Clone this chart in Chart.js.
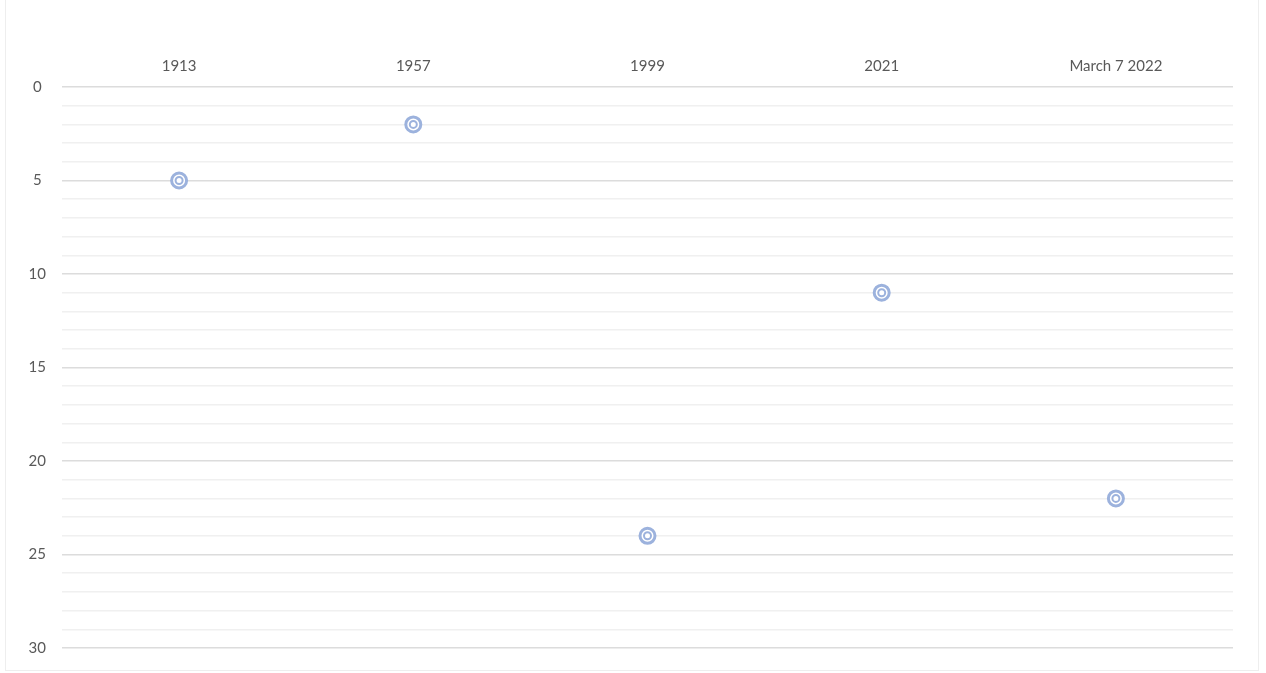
<!DOCTYPE html>
<html>
<head>
<meta charset="utf-8">
<script src="https://cdn.jsdelivr.net/npm/chart.js@4"></script>
<style>
  body { margin: 0; background: #fff; }
  #wrap { position: relative; width: 1266px; height: 673px; }
  #frame { position: absolute; left: 5px; top: -2px; width: 1254px; height: 673px; border: 1px solid #eeeeee; box-sizing: border-box; pointer-events: none; }
</style>
</head>
<body>
<div id="wrap">
  <canvas id="myChart" width="1266" height="673"></canvas>
  <div id="frame"></div>
</div>
<script>
// categories along the top, and the value for each one (axis runs downwards)
var categories = ['1913', '1957', '1999', '2021', 'March 7 2022'];
var values = [5, 2, 24, 11, 22];
var yMin = 0;
var yMax = 30;
var labelEvery = 5;

var ringColor = '#9cb2dd';
var textColor = '#595959';

var ctx = document.getElementById('myChart').getContext('2d');
var chart = new Chart(ctx, {
    type: 'line',
    data: {
        labels: categories,
        datasets: [
            {
                // inner ring
                data: values,
                showLine: false,
                pointRadius: 3.5,
                pointBackgroundColor: '#ffffff',
                pointBorderColor: ringColor,
                pointBorderWidth: 2
            },
            {
                // outer ring
                data: values,
                showLine: false,
                pointRadius: 7.5,
                pointBackgroundColor: '#ffffff',
                pointBorderColor: ringColor,
                pointBorderWidth: 3
            }
        ]
    },
    options: {
        responsive: false,
        animation: false,
        layout: {
            padding: { left: 0, right: 33, top: 0, bottom: 25 }
        },
        plugins: {
            legend: { display: false },
            tooltip: { enabled: false }
        },
        scales: {
            x: {
                position: 'top',
                offset: true,
                grid: { display: false },
                border: { display: false },
                ticks: {
                    color: textColor,
                    font: { family: 'Lato', size: 15 },
                    padding: 4,
                    maxRotation: 0
                },
                afterFit: function(scale) { scale.height = 87; }
            },
            y: {
                reverse: true,
                min: yMin,
                max: yMax,
                border: { display: false },
                grid: {
                    drawTicks: false,
                    lineWidth: 1.5,
                    color: function(c) {
                        return c.tick && c.tick.value % labelEvery === 0 ? '#dcdcdc' : '#f0f0f0';
                    }
                },
                ticks: {
                    stepSize: 1,
                    autoSkip: false,
                    crossAlign: 'center',
                    padding: 16,
                    color: textColor,
                    font: { family: 'Lato', size: 15 },
                    callback: function(v) { return v % labelEvery === 0 ? v : ''; }
                },
                afterFit: function(scale) { scale.width = 62; }
            }
        }
    }
});
</script>
</body>
</html>
